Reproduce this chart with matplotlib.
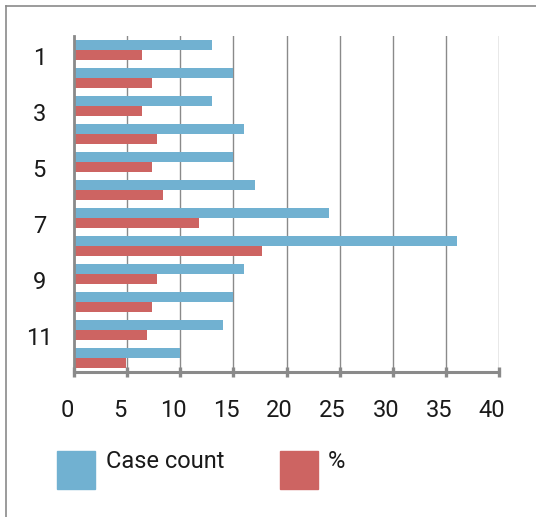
import matplotlib
matplotlib.use("Agg")
import matplotlib.pyplot as plt
import matplotlib.transforms as mtransforms
from matplotlib.patches import Rectangle
from matplotlib.lines import Line2D

categories = ["1", "2", "3", "4", "5", "6", "7", "8", "9", "10", "11", "12"]
case_count = [13, 15, 13, 16, 15, 17, 24, 36, 16, 15, 14, 10]
percent = [6.37, 7.35, 6.37, 7.84, 7.35, 8.33, 11.76, 17.65, 7.84, 7.35, 6.86, 4.90]
x_ticks = [0, 5, 10, 15, 20, 25, 30, 35, 40]

blue = "#71b1d1"
red = "#cd6462"
gray = "#8a8a8a"

plt.rcParams["font.family"] = ["Roboto", "DejaVu Sans"]

fig = plt.figure(figsize=(5.36, 5.17), dpi=100)
W, H = 536, 517
ax = fig.add_axes([74 / W, (H - 372) / H, 425 / W, 336 / H])

pos = list(range(len(categories)))
bh = 0.34
ax.barh([p - bh / 2 for p in pos], case_count, height=bh, color=blue, zorder=3)
ax.barh([p + bh / 2 for p in pos], percent, height=bh, color=red, zorder=3)

ax.set_xlim(0, 40)
ax.set_ylim(len(categories) - 0.5, -0.5)
ax.set_xticks(x_ticks)
ax.set_xticklabels([str(t) for t in x_ticks])
ax.set_yticks(pos[::2])
ax.set_yticklabels(categories[::2])

ax.grid(axis="x", color=gray, linewidth=1.0, zorder=1)
for s in ["top", "right"]:
    ax.spines[s].set_visible(False)
ax.spines["left"].set_color(gray)
ax.spines["left"].set_linewidth(2.0)
ax.spines["bottom"].set_color(gray)
ax.spines["bottom"].set_linewidth(2.2)
ax.spines["left"].set_zorder(4)
ax.spines["bottom"].set_zorder(4)

ax.tick_params(axis="x", direction="inout", length=6.5, width=2.4, color=gray,
               labelsize=17, pad=16, labelcolor="#1a1a1a")
ax.tick_params(axis="y", length=0, labelsize=17, pad=25, labelcolor="#1a1a1a")
for lbl in ax.get_yticklabels():
    lbl.set_horizontalalignment("center")
    lbl.set_transform(lbl.get_transform() + mtransforms.ScaledTranslation(0, -6 / 100, fig.dpi_scale_trans))
for lbl in ax.get_xticklabels():
    lbl.set_transform(lbl.get_transform() + mtransforms.ScaledTranslation(-7 / 100, 0, fig.dpi_scale_trans))

# outer frame (only top and left visible)
fig.add_artist(Line2D([5.5 / W, 1], [1 - 6 / H, 1 - 6 / H], transform=fig.transFigure, color=gray, linewidth=1.2))
fig.add_artist(Line2D([5.5 / W, 5.5 / W], [0, 1 - 6 / H], transform=fig.transFigure, color=gray, linewidth=1.2))

# legend
fig.add_artist(Rectangle((57 / W, (H - 489) / H), 38 / W, 38 / H, transform=fig.transFigure, color=blue))
fig.text(106 / W, (H - 462) / H, "Case count", fontsize=17, va="center", ha="left", color="#1a1a1a")
fig.add_artist(Rectangle((280 / W, (H - 489) / H), 38 / W, 38 / H, transform=fig.transFigure, color=red))
fig.text(328 / W, (H - 462) / H, "%", fontsize=17, va="center", ha="left", color="#1a1a1a")

fig.savefig("out.png", dpi=100)
